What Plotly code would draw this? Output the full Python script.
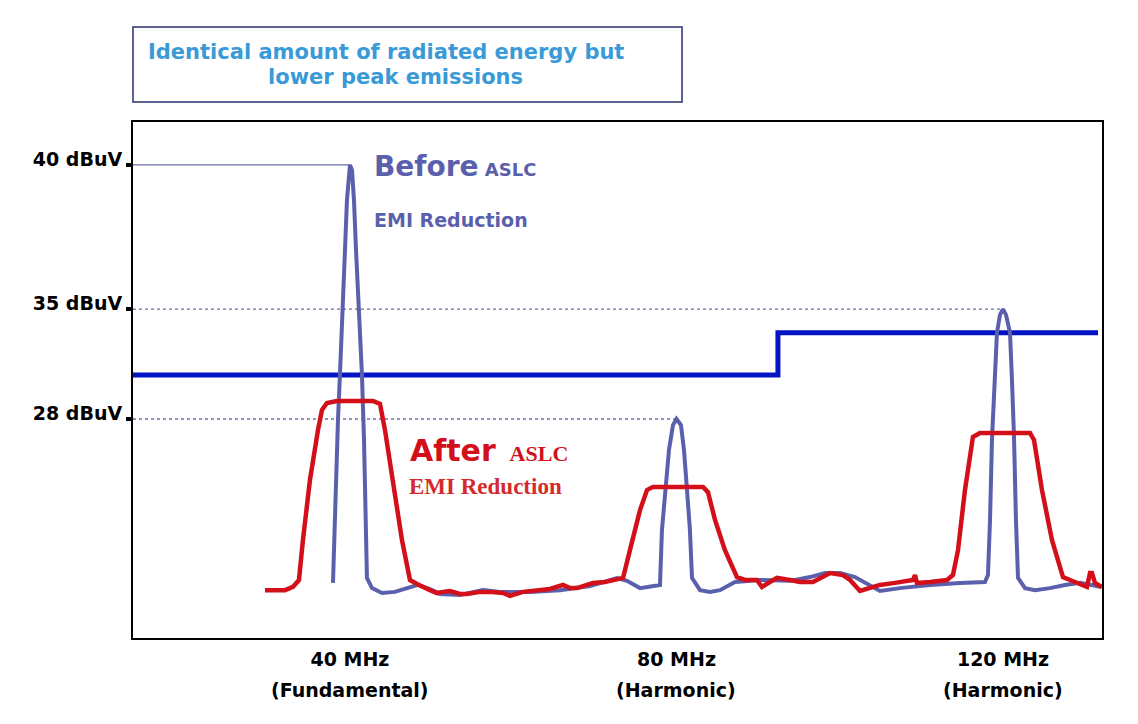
import plotly.graph_objects as go

# ---- data (frequency in MHz, level on the drawing's dB scale) ----
freq_before = [37.92, 38.28, 38.53, 38.77, 39.14, 39.39, 39.63, 39.88, 40.0, 40.25, 40.49, 40.74,
               41.10, 41.47, 41.72, 41.96, 42.08, 42.70, 43.92, 45.51, 47.11, 48.33, 49.80, 51.03,
               53.48, 56.29, 58.38, 62.05, 65.73, 69.40, 72.71, 73.94, 75.53, 76.75, 77.98, 78.22,
               78.59, 79.08, 79.57, 80.0, 80.55, 80.92, 81.29, 81.65, 81.90, 82.88, 84.10, 85.33,
               87.17, 90.23, 93.91, 96.36, 98.19, 100.03, 101.87, 103.71, 104.93, 107.38, 111.06,
               114.73, 117.79, 118.16, 118.41, 118.65, 119.02, 119.26, 119.63, 120.0, 120.37,
               120.86, 121.10, 121.35, 121.59, 121.84, 122.70, 123.92, 125.76, 127.60, 129.43,
               131.27, 132.10]
level_before = [25.59, 29.48, 31.21, 32.76, 35.0, 37.07, 38.79, 39.83, 40.0, 39.83, 38.79, 37.07,
                35.0, 32.76, 30.52, 27.76, 25.76, 25.41, 25.24, 25.28, 25.41, 25.52, 25.38, 25.21,
                25.17, 25.34, 25.28, 25.28, 25.34, 25.48, 25.76, 25.66, 25.41, 25.48, 25.52, 27.41,
                28.79, 30.17, 31.03, 31.24, 31.03, 30.17, 28.79, 27.41, 25.76, 25.34, 25.28, 25.34,
                25.62, 25.69, 25.66, 25.79, 25.93, 25.93, 25.79, 25.48, 25.31, 25.41, 25.52,
                25.59, 25.62, 25.86, 27.76, 30.52, 32.59, 34.21, 34.83, 35.03, 34.83,
                34.21, 32.59, 30.62, 27.76, 25.76, 25.41, 25.34, 25.41, 25.52, 25.59,
                25.48, 25.45]

freq_after = [29.59, 32.04, 33.02, 33.75, 34.24, 35.10, 36.08, 36.57, 37.18, 38.41, 42.82, 43.68,
              44.29, 45.27, 46.37, 47.35, 48.21, 49.80, 50.66, 51.39, 52.25, 53.48, 54.33, 55.93,
              57.15, 58.74, 59.60, 61.19, 63.28, 64.50, 66.10, 66.95, 67.81, 68.79, 69.77, 71.24,
              72.71, 73.45, 74.30, 75.53, 76.39, 77.12, 83.25, 83.86, 84.72, 85.94, 87.41, 88.39,
              89.86, 90.47, 91.45, 92.31, 93.91, 95.13, 96.72, 97.58, 98.81, 100.40, 101.26,
              102.48, 103.71, 104.93, 106.77, 108.97, 109.22, 109.46, 111.06, 113.14, 113.87,
              114.49, 115.34, 116.32, 117.18, 123.31, 123.80, 124.78, 126.00, 127.35, 128.21,
              129.43, 130.29, 130.66, 130.90, 131.27, 132.10]
level_after = [25.34, 25.34, 25.45, 25.69, 27.07, 29.14, 30.86, 31.55, 31.79, 31.86, 31.86, 31.76,
               30.86, 29.14, 27.07, 25.69, 25.55, 25.34, 25.24, 25.28, 25.31, 25.21, 25.21, 25.28,
               25.28, 25.24, 25.14, 25.28, 25.34, 25.38, 25.52, 25.41, 25.41, 25.52, 25.59, 25.62,
               25.69, 25.76, 26.72, 28.10, 28.79, 28.90, 28.90, 28.72, 27.76, 26.72, 25.79, 25.69,
               25.69, 25.45, 25.62, 25.76, 25.69, 25.62, 25.62, 25.76, 25.93, 25.86, 25.69,
               25.31, 25.41, 25.52, 25.59, 25.69, 25.86, 25.59, 25.62, 25.69, 25.86,
               26.72, 28.79, 30.62, 30.76, 30.76, 30.52, 28.79, 27.07, 25.79, 25.69,
               25.55, 25.45, 25.93, 25.93, 25.59, 25.45]

limit_freq = [13.42, 92.43, 131.64]
limit_level = [32.76, 34.21, 34.21]

peak_freq = [40, 120, 80]
peak_level = [40, 35.03, 31.24]
peak_dash = ["solid", "dot", "dot"]

ytick_vals = [40, 35.03, 31.24]
ytick_text = ["40 dBuV", "35 dBuV", "28 dBuV"]

xtick_vals = [40, 80, 120]
xtick_text = ["40 MHz", "80 MHz", "120 MHz"]
xtick_sub = ["(Fundamental)", "(Harmonic)", "(Harmonic)"]

X_RANGE = [13.42, 132.13]
Y_RANGE = [23.69, 41.48]

BEFORE_C = "#5B60AC"
AFTER_C = "#D3101A"
LIMIT_C = "#0414C4"
FONT = "DejaVu Sans"

fig = go.Figure()

# reference lines from axis to peaks
for f, l, d in zip(peak_freq, peak_level, peak_dash):
    fig.add_trace(go.Scatter(x=[X_RANGE[0], f], y=[l, l], mode="lines",
                             line=dict(color="#6A6FA8", width=1.3, dash=d),
                             hoverinfo="skip", showlegend=False))

fig.add_trace(go.Scatter(x=limit_freq, y=limit_level, mode="lines", line_shape="hv",
                         line=dict(color=LIMIT_C, width=5), showlegend=False, name="Limit"))
fig.add_trace(go.Scatter(x=freq_before, y=level_before, mode="lines",
                         line=dict(color=BEFORE_C, width=4), showlegend=False, name="Before"))
fig.add_trace(go.Scatter(x=freq_after, y=level_after, mode="lines",
                         line=dict(color=AFTER_C, width=4.5), showlegend=False, name="After"))

fig.update_xaxes(range=X_RANGE, showgrid=False, zeroline=False, showline=True, mirror=True,
                 linecolor="black", linewidth=2, tickvals=xtick_vals, ticktext=xtick_text,
                 ticks="", ticklabelstandoff=3,
                 tickfont=dict(family=FONT, size=19, color="black", weight="bold"))
fig.update_yaxes(range=Y_RANGE, showgrid=False, zeroline=False, showline=True, mirror=True,
                 linecolor="black", linewidth=2, tickvals=ytick_vals, ticktext=ytick_text,
                 ticks="outside", ticklen=5, tickwidth=4, tickcolor="black",
                 ticklabelshift=-6, ticklabelstandoff=0,
                 tickfont=dict(family=FONT, size=19, color="black", weight="bold"))

annotations = []
for f, s in zip(xtick_vals, xtick_sub):
    annotations.append(dict(x=f, y=-0.10, xref="x", yref="paper", text=s, showarrow=False,
                            xanchor="center", yanchor="middle",
                            font=dict(family=FONT, size=19, color="black", weight="bold")))

annotations += [
    dict(x=42.7, y=39.93, xref="x", yref="y", xanchor="left", yanchor="middle", showarrow=False,
         text="<b>Before</b><span style='font-size:18px'><b> ASLC</b></span>",
         font=dict(family=FONT, size=28, color=BEFORE_C)),
    dict(x=42.7, y=38.09, xref="x", yref="y", xanchor="left", yanchor="middle", showarrow=False,
         text="<b>EMI Reduction</b>", font=dict(family=FONT, size=19, color=BEFORE_C)),
    dict(x=47.1, y=30.17, xref="x", yref="y", xanchor="left", yanchor="middle", showarrow=False,
         text="<b>After</b> <span style=\"font-family:'Liberation Serif';font-size:22px\"><b> ASLC</b></span>",
         font=dict(family=FONT, size=30, color=AFTER_C)),
    dict(x=46.98, y=28.91, xref="x", yref="y", xanchor="left", yanchor="middle", showarrow=False,
         text="<b>EMI Reduction</b>", font=dict(family="Liberation Serif", size=23, color="#D42A2E")),
    dict(x=0.2611, y=1.1357, xref="paper", yref="paper", xanchor="center", yanchor="middle",
         showarrow=False, text="<b>Identical amount of radiated energy but</b>",
         font=dict(family=FONT, size=21, color="#3A9AD8")),
    dict(x=0.2714, y=1.0872, xref="paper", yref="paper", xanchor="center", yanchor="middle",
         showarrow=False, text="<b>lower peak emissions</b>",
         font=dict(family=FONT, size=21, color="#3A9AD8")),
]

fig.update_layout(
    width=1130, height=716,
    margin=dict(l=125, r=36, t=114, b=86),
    paper_bgcolor="white", plot_bgcolor="white",
    showlegend=False,
    annotations=annotations,
    shapes=[dict(type="rect", xref="paper", yref="paper", x0=0, x1=0.5666, y0=1.0388, y1=1.184,
                 line=dict(color="#2B2F70", width=1.5), fillcolor="rgba(0,0,0,0)")],
)

fig.write_html("out.html")
